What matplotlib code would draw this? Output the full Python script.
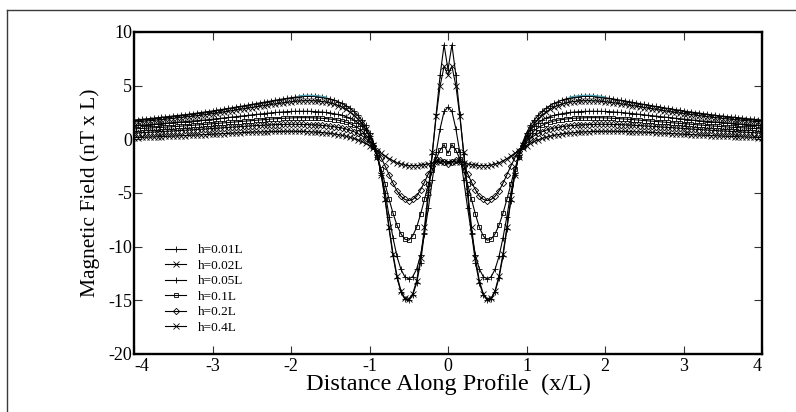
import numpy as np
import matplotlib
matplotlib.use("Agg")
import matplotlib.pyplot as plt
from matplotlib.lines import Line2D

plt.rcParams.update({"font.family": ["Liberation Serif", "DejaVu Serif"],
                     "axes.unicode_minus": False})

# sample positions along the profile, x/L, every 0.05 from -4 to 4
X_FIRST, X_STEP, N_PTS = -4.0, 0.05, 161
x = np.round(X_FIRST + X_STEP * np.arange(N_PTS), 2)

LABELS = ["h=0.01L", "h=0.02L", "h=0.05L", "h=0.1L", "h=0.2L", "h=0.4L"]
XTICKS = [-4, -3, -2, -1, 0, 1, 2, 3, 4]
YTICKS = [-20, -15, -10, -5, 0, 5, 10]

h001 = [1.79, 1.82, 1.86, 1.89, 1.93, 1.96, 2.0, 2.04, 2.08, 2.12,
        2.16, 2.2, 2.25, 2.29, 2.34, 2.39, 2.44, 2.49, 2.54, 2.59,
        2.65, 2.7, 2.76, 2.82, 2.88, 2.94, 3.0, 3.06, 3.13, 3.19,
        3.26, 3.32, 3.39, 3.45, 3.52, 3.58, 3.65, 3.71, 3.77, 3.83,
        3.88, 3.93, 3.97, 4.0, 4.02, 4.02, 4.0, 3.97, 3.92, 3.85,
        3.76, 3.65, 3.5, 3.35, 3.15, 2.9, 2.6, 2.25, 1.8, 1.3,
        0.6, -0.3, -1.5, -3.3, -5.7, -8.4, -10.9, -12.9, -14.2, -14.9,
        -15.0, -14.5, -13.4, -11.5, -8.7, -5.2, -1.4, 2.4, 6.0, 8.8,
        6.5,
        8.8, 6.0, 2.4, -1.4, -5.2, -8.7, -11.5, -13.4, -14.5, -15.0,
        -14.9, -14.2, -12.9, -10.9, -8.4, -5.7, -3.3, -1.5, -0.3, 0.6,
        1.3, 1.8, 2.25, 2.6, 2.9, 3.15, 3.35, 3.5, 3.65, 3.76,
        3.85, 3.92, 3.97, 4.0, 4.02, 4.02, 4.0, 3.97, 3.93, 3.88,
        3.83, 3.77, 3.71, 3.65, 3.58, 3.52, 3.45, 3.39, 3.32, 3.26,
        3.19, 3.13, 3.06, 3.0, 2.94, 2.88, 2.82, 2.76, 2.7, 2.65,
        2.59, 2.54, 2.49, 2.44, 2.39, 2.34, 2.29, 2.25, 2.2, 2.16,
        2.12, 2.08, 2.04, 2.0, 1.96, 1.93, 1.89, 1.86, 1.82, 1.79]

h002 = [1.61, 1.64, 1.67, 1.7, 1.73, 1.76, 1.8, 1.83, 1.87, 1.9,
        1.94, 1.98, 2.02, 2.06, 2.11, 2.15, 2.2, 2.24, 2.29, 2.34,
        2.39, 2.44, 2.5, 2.55, 2.61, 2.66, 2.72, 2.78, 2.84, 2.9,
        2.96, 3.02, 3.08, 3.14, 3.2, 3.25, 3.31, 3.36, 3.41, 3.46,
        3.5, 3.54, 3.57, 3.59, 3.6, 3.6, 3.59, 3.56, 3.52, 3.46,
        3.38, 3.28, 3.15, 3.0, 2.8, 2.55, 2.25, 1.9, 1.5, 1.0,
        0.35, -0.5, -1.6, -3.3, -5.6, -8.2, -10.7, -12.7, -14.1, -14.8,
        -14.9, -14.4, -13.2, -11.1, -8.2, -4.8, -1.2, 2.2, 5.0, 6.8,
        6.0,
        6.8, 5.0, 2.2, -1.2, -4.8, -8.2, -11.1, -13.2, -14.4, -14.9,
        -14.8, -14.1, -12.7, -10.7, -8.2, -5.6, -3.3, -1.6, -0.5, 0.35,
        1.0, 1.5, 1.9, 2.25, 2.55, 2.8, 3.0, 3.15, 3.28, 3.38,
        3.46, 3.52, 3.56, 3.59, 3.6, 3.6, 3.59, 3.57, 3.54, 3.5,
        3.46, 3.41, 3.36, 3.31, 3.25, 3.2, 3.14, 3.08, 3.02, 2.96,
        2.9, 2.84, 2.78, 2.72, 2.66, 2.61, 2.55, 2.5, 2.44, 2.39,
        2.34, 2.29, 2.24, 2.2, 2.15, 2.11, 2.06, 2.02, 1.98, 1.94,
        1.9, 1.87, 1.83, 1.8, 1.76, 1.73, 1.7, 1.67, 1.64, 1.61]

h005 = [1.28, 1.3, 1.32, 1.35, 1.37, 1.4, 1.42, 1.45, 1.48, 1.51,
        1.54, 1.57, 1.6, 1.63, 1.66, 1.7, 1.73, 1.77, 1.8, 1.84,
        1.88, 1.92, 1.96, 2.0, 2.04, 2.08, 2.12, 2.16, 2.2, 2.24,
        2.28, 2.32, 2.36, 2.4, 2.44, 2.47, 2.5, 2.53, 2.56, 2.58,
        2.6, 2.61, 2.62, 2.62, 2.62, 2.61, 2.59, 2.57, 2.54, 2.5,
        2.45, 2.39, 2.32, 2.23, 2.12, 1.98, 1.8, 1.55, 1.25, 0.85,
        0.3, -0.5, -1.6, -3.1, -5.0, -7.2, -9.2, -10.9, -12.1, -12.8,
        -13.0, -12.8, -12.1, -10.8, -8.8, -6.4, -3.8, -1.2, 1.0, 2.6,
        3.0,
        2.6, 1.0, -1.2, -3.8, -6.4, -8.8, -10.8, -12.1, -12.8, -13.0,
        -12.8, -12.1, -10.9, -9.2, -7.2, -5.0, -3.1, -1.6, -0.5, 0.3,
        0.85, 1.25, 1.55, 1.8, 1.98, 2.12, 2.23, 2.32, 2.39, 2.45,
        2.5, 2.54, 2.57, 2.59, 2.61, 2.62, 2.62, 2.62, 2.61, 2.6,
        2.58, 2.56, 2.53, 2.5, 2.47, 2.44, 2.4, 2.36, 2.32, 2.28,
        2.24, 2.2, 2.16, 2.12, 2.08, 2.04, 2.0, 1.96, 1.92, 1.88,
        1.84, 1.8, 1.77, 1.73, 1.7, 1.66, 1.63, 1.6, 1.57, 1.54,
        1.51, 1.48, 1.45, 1.42, 1.4, 1.37, 1.35, 1.32, 1.3, 1.28]

h01 = [0.97, 0.99, 1.01, 1.03, 1.05, 1.07, 1.09, 1.11, 1.13, 1.15,
       1.18, 1.2, 1.23, 1.25, 1.28, 1.31, 1.33, 1.36, 1.39, 1.42,
       1.45, 1.48, 1.51, 1.54, 1.57, 1.6, 1.63, 1.66, 1.69, 1.72,
       1.75, 1.78, 1.81, 1.84, 1.87, 1.89, 1.92, 1.94, 1.96, 1.98,
       2.0, 2.01, 2.02, 2.02, 2.02, 2.01, 2.0, 1.98, 1.96, 1.93,
       1.89, 1.84, 1.78, 1.7, 1.6, 1.47, 1.3, 1.08, 0.8, 0.45,
       -0.05, -0.7, -1.6, -2.8, -4.2, -5.6, -6.9, -8.0, -8.8, -9.3,
       -9.4, -9.0, -8.2, -7.0, -5.6, -4.2, -2.9, -1.8, -1.0, -0.5,
       -1.3,
       -0.5, -1.0, -1.8, -2.9, -4.2, -5.6, -7.0, -8.2, -9.0, -9.4,
       -9.3, -8.8, -8.0, -6.9, -5.6, -4.2, -2.8, -1.6, -0.7, -0.05,
       0.45, 0.8, 1.08, 1.3, 1.47, 1.6, 1.7, 1.78, 1.84, 1.89,
       1.93, 1.96, 1.98, 2.0, 2.01, 2.02, 2.02, 2.02, 2.01, 2.0,
       1.98, 1.96, 1.94, 1.92, 1.89, 1.87, 1.84, 1.81, 1.78, 1.75,
       1.72, 1.69, 1.66, 1.63, 1.6, 1.57, 1.54, 1.51, 1.48, 1.45,
       1.42, 1.39, 1.36, 1.33, 1.31, 1.28, 1.25, 1.23, 1.2, 1.18,
       1.15, 1.13, 1.11, 1.09, 1.07, 1.05, 1.03, 1.01, 0.99, 0.97]

h02 = [0.58, 0.6, 0.62, 0.64, 0.66, 0.68, 0.7, 0.72, 0.74, 0.76,
       0.78, 0.8, 0.82, 0.84, 0.87, 0.89, 0.91, 0.94, 0.96, 0.99,
       1.01, 1.04, 1.06, 1.09, 1.11, 1.14, 1.16, 1.19, 1.21, 1.24,
       1.26, 1.28, 1.3, 1.32, 1.34, 1.36, 1.37, 1.38, 1.39, 1.4,
       1.4, 1.4, 1.4, 1.39, 1.38, 1.37, 1.35, 1.33, 1.3, 1.27,
       1.23, 1.18, 1.12, 1.05, 0.96, 0.85, 0.72, 0.55, 0.35, 0.1,
       -0.2, -0.6, -1.1, -1.75, -2.5, -3.3, -4.1, -4.8, -5.3, -5.6,
       -5.7, -5.6, -5.3, -4.7, -4.0, -3.2, -2.5, -2.0, -1.9, -2.1,
       -2.3,
       -2.1, -1.9, -2.0, -2.5, -3.2, -4.0, -4.7, -5.3, -5.6, -5.7,
       -5.6, -5.3, -4.8, -4.1, -3.3, -2.5, -1.75, -1.1, -0.6, -0.2,
       0.1, 0.35, 0.55, 0.72, 0.85, 0.96, 1.05, 1.12, 1.18, 1.23,
       1.27, 1.3, 1.33, 1.35, 1.37, 1.38, 1.39, 1.4, 1.4, 1.4,
       1.4, 1.39, 1.38, 1.37, 1.36, 1.34, 1.32, 1.3, 1.28, 1.26,
       1.24, 1.21, 1.19, 1.16, 1.14, 1.11, 1.09, 1.06, 1.04, 1.01,
       0.99, 0.96, 0.94, 0.91, 0.89, 0.87, 0.84, 0.82, 0.8, 0.78,
       0.76, 0.74, 0.72, 0.7, 0.68, 0.66, 0.64, 0.62, 0.6, 0.58]

h04 = [0.16, 0.17, 0.18, 0.2, 0.21, 0.22, 0.24, 0.25, 0.27, 0.28,
       0.3, 0.32, 0.33, 0.35, 0.37, 0.38, 0.4, 0.42, 0.44, 0.46,
       0.48, 0.5, 0.52, 0.54, 0.56, 0.58, 0.6, 0.62, 0.64, 0.65,
       0.67, 0.68, 0.7, 0.71, 0.72, 0.73, 0.74, 0.74, 0.75, 0.75,
       0.75, 0.75, 0.74, 0.73, 0.72, 0.7, 0.68, 0.66, 0.63, 0.59,
       0.55, 0.5, 0.44, 0.37, 0.29, 0.19, 0.08, -0.05, -0.2, -0.38,
       -0.58, -0.8, -1.05, -1.3, -1.55, -1.8, -2.0, -2.2, -2.3, -2.4,
       -2.45, -2.45, -2.45, -2.4, -2.35, -2.3, -2.2, -2.15, -2.1, -2.1,
       -2.1,
       -2.1, -2.1, -2.15, -2.2, -2.3, -2.35, -2.4, -2.45, -2.45, -2.45,
       -2.4, -2.3, -2.2, -2.0, -1.8, -1.55, -1.3, -1.05, -0.8, -0.58,
       -0.38, -0.2, -0.05, 0.08, 0.19, 0.29, 0.37, 0.44, 0.5, 0.55,
       0.59, 0.63, 0.66, 0.68, 0.7, 0.72, 0.73, 0.74, 0.75, 0.75,
       0.75, 0.75, 0.74, 0.74, 0.73, 0.72, 0.71, 0.7, 0.68, 0.67,
       0.65, 0.64, 0.62, 0.6, 0.58, 0.56, 0.54, 0.52, 0.5, 0.48,
       0.46, 0.44, 0.42, 0.4, 0.38, 0.37, 0.35, 0.33, 0.32, 0.3,
       0.28, 0.27, 0.25, 0.24, 0.22, 0.21, 0.2, 0.18, 0.17, 0.16]

SERIES = [h001, h002, h005, h01, h02, h04]
MARKERS = ["+", "x", "+", "s", "D", "x"]
MSIZE = [5, 4, 5, 3.2, 3.2, 4]
TEAL = "#4aa3b5"

fig = plt.figure(figsize=(7.96, 4.12), dpi=100)
ax = fig.add_axes([134 / 796, 1 - 354 / 412, 628 / 796, 322 / 412])

# outer frame (top and left edges of a box cut by the page)
fig.add_artist(Line2D([7 / 796, 1.0], [1 - 9.5 / 412] * 2, color="#3a3a3a",
                      lw=1.0, transform=fig.transFigure))
fig.add_artist(Line2D([7 / 796] * 2, [1 - 9.5 / 412, 0.0], color="#3a3a3a",
                      lw=1.0, transform=fig.transFigure))

for ys, lab, mk, ms in zip(SERIES, LABELS, MARKERS, MSIZE):
    ax.plot(x, ys, color="black", lw=0.8, marker=mk, ms=ms,
            mfc="none", mec="black", mew=0.6, label=lab)

# the thin coloured stretch left on the top curve near its shoulders
top = np.array(h001)
for sel in ((x >= -1.9) & (x <= -1.55), (x >= 1.55) & (x <= 2.0)):
    ax.plot(x[sel], top[sel] + 0.08, color=TEAL, lw=0.9, zorder=3)

ax.set_xlim(-4, 4)
ax.set_ylim(-20, 10)
ax.set_xticks(XTICKS)
ax.set_xticklabels([str(t) for t in XTICKS])
ax.set_yticks(YTICKS)
ax.set_yticklabels([str(t) for t in YTICKS])
# end labels sit inside the axis ends, as in the original
ax.get_xticklabels()[0].set_ha("left")
ax.get_xticklabels()[-1].set_ha("right")
ax.tick_params(direction="in", length=6, width=0.8, color="#333333",
               top=True, right=True, labelsize=13)
ax.tick_params(axis="y", pad=1.5)
ax.tick_params(axis="x", pad=3)
for s in ax.spines.values():
    s.set_linewidth(1.7)

ax.set_xlabel("Distance Along Profile  (x/L)", fontsize=17.5, labelpad=-1)
ax.set_ylabel("Magnetic Field (nT x L)", fontsize=15.5, labelpad=6)

ax.legend(loc="upper left", bbox_to_anchor=(0.035, 0.37), frameon=False,
          fontsize=9.5, numpoints=1, handlelength=1.6, handletextpad=0.9,
          labelspacing=0.25, borderpad=0.2)

fig.savefig("out.png", dpi=100)
